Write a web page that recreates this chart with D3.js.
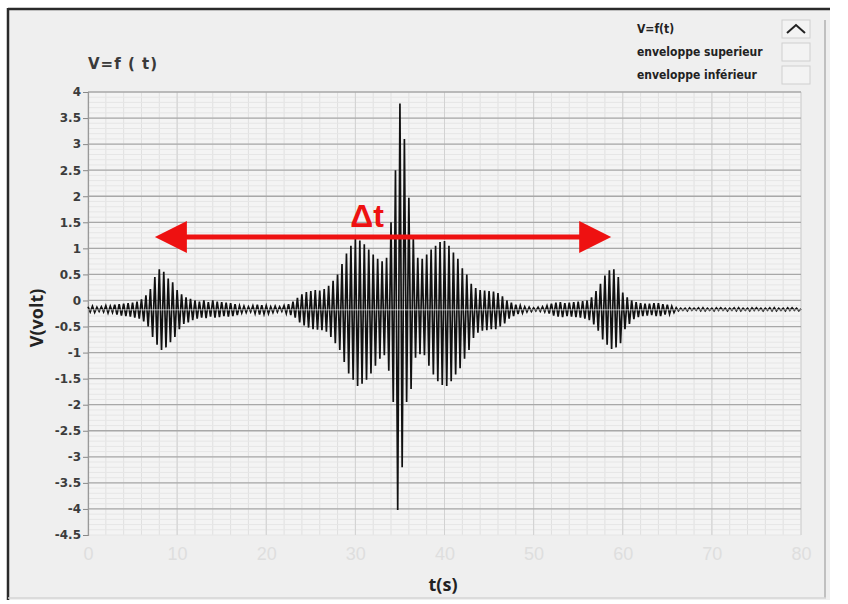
<!DOCTYPE html>
<html><head><meta charset="utf-8">
<script src="https://cdn.jsdelivr.net/npm/d3@7"></script>
<style>html,body{margin:0;padding:0;background:#fff;}svg{display:block;}</style>
</head><body>
<svg id="chart" width="848" height="604"></svg>
<script>
// ---------- data ----------
const sampleStep = 0.25; // seconds between samples (one row = one second)
const voltage = [
 -0.12,-0.22,-0.11,-0.23,  // 0 s
 -0.13,-0.21,-0.12,-0.22,
 -0.10,-0.24,-0.11,-0.23,
 -0.08,-0.27,-0.07,-0.29,
 -0.06,-0.30,-0.05,-0.31,
 -0.04,-0.33,-0.02,-0.35,  // 5 s
  0.02,-0.40, 0.10,-0.50,
  0.22,-0.70, 0.45,-0.85,
  0.60,-0.95, 0.55,-0.90,
  0.42,-0.80, 0.35,-0.70,
  0.20,-0.55, 0.12,-0.45,  // 10 s
  0.06,-0.42, 0.03,-0.38,
  0.00,-0.35,-0.02,-0.33,
  0.00,-0.34,-0.03,-0.31,
  0.00,-0.33,-0.02,-0.32,
 -0.03,-0.30,-0.04,-0.31,  // 15 s
 -0.05,-0.30,-0.07,-0.28,
 -0.10,-0.24,-0.11,-0.23,
 -0.12,-0.22,-0.10,-0.25,
 -0.08,-0.27,-0.09,-0.26,
 -0.10,-0.25,-0.12,-0.23,  // 20 s
 -0.11,-0.22,-0.12,-0.21,
 -0.10,-0.25,-0.07,-0.28,
 -0.02,-0.33, 0.05,-0.42,
  0.12,-0.48, 0.16,-0.52,
  0.18,-0.55, 0.20,-0.56,  // 25 s
  0.19,-0.57, 0.22,-0.60,
  0.28,-0.70, 0.38,-0.82,
  0.50,-0.95, 0.70,-1.18,
  0.90,-1.40, 1.05,-1.52,
  1.18,-1.64, 1.15,-1.60,  // 30 s
  1.08,-1.52, 0.98,-1.40,
  0.88,-1.25, 0.80,-1.12,
  0.75,-1.05, 0.82,-1.35,
  1.50,-1.95, 2.50,-4.02,
  3.78,-3.20, 3.10,-1.95,  // 35 s
  1.97,-1.70, 1.20,-1.10,
  0.82,-1.03, 0.80,-1.05,
  0.88,-1.25, 0.98,-1.42,
  1.05,-1.55, 1.12,-1.62,
  1.14,-1.64, 1.05,-1.55,  // 40 s
  0.92,-1.42, 0.80,-1.30,
  0.62,-1.12, 0.50,-0.95,
  0.32,-0.72, 0.24,-0.62,
  0.20,-0.58, 0.19,-0.57,
  0.18,-0.55, 0.17,-0.55,  // 45 s
  0.14,-0.50, 0.08,-0.44,
  0.00,-0.35,-0.04,-0.30,
 -0.08,-0.26,-0.10,-0.24,
 -0.12,-0.22,-0.13,-0.21,
 -0.14,-0.20,-0.13,-0.21,  // 50 s
 -0.12,-0.22,-0.10,-0.25,
 -0.06,-0.29,-0.04,-0.31,
 -0.03,-0.32,-0.05,-0.30,
 -0.04,-0.31,-0.03,-0.32,
 -0.02,-0.33,-0.01,-0.35,  // 55 s
  0.00,-0.38, 0.06,-0.46,
  0.18,-0.58, 0.32,-0.75,
  0.48,-0.85, 0.58,-0.93,
  0.60,-0.90, 0.45,-0.82,
  0.15,-0.55, 0.06,-0.45,  // 60 s
  0.00,-0.36,-0.03,-0.32,
 -0.05,-0.30,-0.06,-0.29,
 -0.06,-0.28,-0.05,-0.30,
 -0.05,-0.30,-0.07,-0.27,
 -0.08,-0.26,-0.11,-0.23,  // 65 s
 -0.14,-0.20,-0.15,-0.19,
 -0.15,-0.20,-0.14,-0.19,
 -0.15,-0.19,-0.14,-0.20,
 -0.14,-0.20,-0.15,-0.19,
 -0.15,-0.20,-0.14,-0.19,  // 70 s
 -0.14,-0.19,-0.15,-0.20,
 -0.15,-0.19,-0.14,-0.20,
 -0.14,-0.20,-0.15,-0.19,
 -0.15,-0.20,-0.14,-0.19,
 -0.14,-0.19,-0.15,-0.20,  // 75 s
 -0.15,-0.19,-0.14,-0.20,
 -0.14,-0.20,-0.15,-0.19,
 -0.15,-0.20,-0.14,-0.19,
 -0.14,-0.19,-0.15,-0.20,
 -0.16                     // 80 s
];
const baselineV = -0.18;             // light trace line through the signal
const xTicks = [0,10,20,30,40,50,60,70,80];
const yTicks = [-4.5,-4,-3.5,-3,-2.5,-2,-1.5,-1,-0.5,0,0.5,1,1.5,2,2.5,3,3.5,4];
const legendItems = ["V=f(t)", "enveloppe superieur", "enveloppe inférieur"];
const deltaT = {t0: 7.5, t1: 58.7, v: 1.22, label: "\u0394t"};
const titleText = "V=f ( t)";
const xLabel = "t(s)";
const yLabel = "V(volt)";

// ---------- layout ----------
const svg = d3.select("#chart");
const x = d3.scaleLinear().domain([0, 80]).range([88, 801]);
const y = d3.scaleLinear().domain([-4.5, 4]).range([535, 92]);

// panel
svg.append("rect").attr("x", 8).attr("y", 8).attr("width", 822).attr("height", 592).attr("fill", "#efefef");
svg.append("line").attr("x1", 8).attr("x2", 830).attr("y1", 9).attr("y2", 9).attr("stroke", "#2a2a2a").attr("stroke-width", 2.5);
svg.append("line").attr("x1", 8).attr("x2", 8).attr("y1", 8).attr("y2", 600).attr("stroke", "#2a2a2a").attr("stroke-width", 2.5);
svg.append("line").attr("x1", 825).attr("x2", 825).attr("y1", 20).attr("y2", 598).attr("stroke", "#b0b0b0").attr("stroke-width", 1.5);
svg.append("line").attr("x1", 8).attr("x2", 826).attr("y1", 598).attr("y2", 598).attr("stroke", "#d4d4d4").attr("stroke-width", 1.5);

// plot background
svg.append("rect").attr("x", x(0)).attr("y", y(4)).attr("width", x(80) - x(0)).attr("height", y(-4.5) - y(4)).attr("fill", "#f4f4f4");

const grid = svg.append("g");
// minor grid
grid.selectAll(".vmin").data(d3.range(0, 81, 2)).join("line")
  .attr("x1", d => x(d)).attr("x2", d => x(d)).attr("y1", y(4)).attr("y2", y(-4.5))
  .attr("stroke", "#e0e0e0").attr("stroke-width", 1);
grid.selectAll(".hmin").data(d3.range(-45, 41, 1).map(d => d / 10)).join("line")
  .attr("x1", x(0)).attr("x2", x(80)).attr("y1", d => y(d)).attr("y2", d => y(d))
  .attr("stroke", "#e6e6e6").attr("stroke-width", 1);
// major grid
grid.selectAll(".vmaj").data(xTicks).join("line")
  .attr("x1", d => x(d)).attr("x2", d => x(d)).attr("y1", y(4)).attr("y2", y(-4.5))
  .attr("stroke", "#d2d2d2").attr("stroke-width", 1);
grid.selectAll(".hmaj").data(yTicks.filter(d => d >= -4)).join("line")
  .attr("x1", x(0)).attr("x2", x(80)).attr("y1", d => y(d)).attr("y2", d => y(d))
  .attr("stroke", "#a8a8a8").attr("stroke-width", 1.3);

// y axis
const yAxis = d3.axisLeft(y).tickValues(yTicks).tickSize(5).tickPadding(2).tickFormat(d => String(d));
const gy = svg.append("g").attr("transform", `translate(${x(0)},0)`).call(yAxis);
gy.select(".domain").attr("stroke", "#999").attr("stroke-width", 1.2);
gy.selectAll(".tick line").attr("stroke", "#888");
gy.selectAll("text").attr("fill", "#3c3c3c").style("font-family", "DejaVu Sans, sans-serif")
  .style("font-size", "12px").style("font-weight", "bold");

// x axis (faint labels, no line)
const xAxis = d3.axisBottom(x).tickValues(xTicks).tickSize(0).tickPadding(12).tickFormat(d => String(d));
const gx = svg.append("g").attr("transform", `translate(0,${y(-4.5)})`).call(xAxis);
gx.select(".domain").remove();
gx.selectAll("text").attr("fill", "#dedede").style("font-family", "Liberation Sans, Arial, sans-serif")
  .style("font-size", "18px");

// signal
const line = d3.line().x((d, i) => x(i * sampleStep)).y(d => y(d));
svg.append("path").datum(voltage).attr("d", line)
  .attr("fill", "none").attr("stroke", "#111").attr("stroke-width", 1.7).attr("stroke-linejoin", "miter");
svg.append("line").attr("x1", x(0)).attr("x2", x(80)).attr("y1", y(baselineV)).attr("y2", y(baselineV))
  .attr("stroke", "#ffffff").attr("stroke-opacity", 0.7).attr("stroke-width", 1);

// delta t arrow
const ay = y(deltaT.v), ax0 = x(deltaT.t0), ax1 = x(deltaT.t1);
svg.append("line").attr("x1", ax0 + 25).attr("x2", ax1 - 25).attr("y1", ay).attr("y2", ay)
  .attr("stroke", "#ee1111").attr("stroke-width", 5);
svg.append("path").attr("d", `M${ax0},${ay} L${ax0 + 32},${ay - 16} L${ax0 + 32},${ay + 16} Z`).attr("fill", "#ee1111");
svg.append("path").attr("d", `M${ax1},${ay} L${ax1 - 32},${ay - 16} L${ax1 - 32},${ay + 16} Z`).attr("fill", "#ee1111");
svg.append("text").attr("x", 367).attr("y", 227).attr("text-anchor", "middle")
  .attr("font-family", "Liberation Sans, Arial, sans-serif").attr("font-size", 32).attr("font-weight", "bold")
  .attr("fill", "#ee1111").text(deltaT.label);

// title & axis labels
svg.append("text").attr("x", 88).attr("y", 69).attr("font-family", "DejaVu Sans, sans-serif")
  .attr("font-size", 15).attr("font-weight", "bold").attr("letter-spacing", 1).attr("fill", "#3a3a3a").text(titleText);
svg.append("text").attr("x", 443).attr("y", 591).attr("text-anchor", "middle")
  .attr("font-family", "Open Sans, Liberation Sans, sans-serif").attr("font-size", 18).attr("font-weight", "bold")
  .attr("fill", "#222").text(xLabel);
svg.append("text").attr("transform", "translate(43,318) rotate(-90)").attr("text-anchor", "middle")
  .attr("font-family", "Open Sans, Liberation Sans, sans-serif").attr("font-size", 18).attr("font-weight", "bold")
  .attr("fill", "#222").text(yLabel);

// legend
const lg = svg.append("g");
const rowY = [29, 52, 75];
lg.selectAll("text").data(legendItems).join("text")
  .attr("x", 637).attr("y", (d, i) => rowY[i] + 4)
  .attr("font-family", "Liberation Sans Narrow, DejaVu Sans Condensed, sans-serif").attr("font-size", 12)
  .attr("font-weight", "bold").attr("fill", "#222").text(d => d);
lg.selectAll("rect").data(legendItems).join("rect")
  .attr("x", 782).attr("y", (d, i) => rowY[i] - 9).attr("width", 28).attr("height", 18)
  .attr("fill", "#f3f3f3").attr("stroke", "#cfcfcf").attr("stroke-width", 1);
lg.append("path").attr("d", `M787,${rowY[0] + 4} L796,${rowY[0] - 4} L805,${rowY[0] + 4}`)
  .attr("fill", "none").attr("stroke", "#222").attr("stroke-width", 2);
</script>
</body></html>
